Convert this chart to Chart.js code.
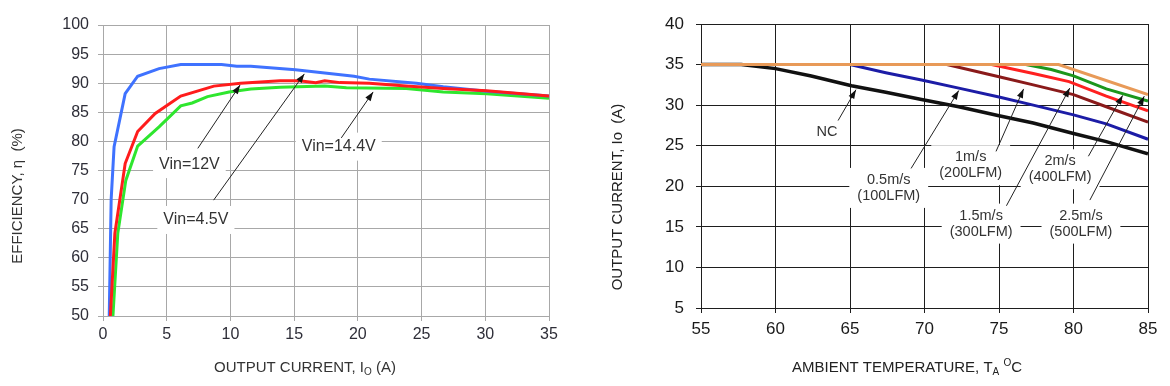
<!DOCTYPE html>
<html>
<head>
<meta charset="utf-8">
<script src="https://cdn.jsdelivr.net/npm/chart.js@4.4.1/dist/chart.umd.min.js"></script>
<style>
  body { margin: 0; background: #fff; width: 1170px; height: 386px; position: relative; overflow: hidden; }
  canvas { position: absolute; top: 0; }
  #effChart { left: 0; }
  #derateChart { left: 585px; }
</style>
</head>
<body>
<canvas id="effChart" width="585" height="386"></canvas>
<canvas id="derateChart" width="585" height="386"></canvas>
<script>
// efficiency vs output current (A, %)
const vin45Current = [0.49, 0.64, 0.87, 1.74, 2.72, 4.4, 6.1, 9.3, 10.5, 11.6, 15.1, 19.7, 20.9, 24.6, 26.7, 30.1, 35];
const vin45Eff     = [50, 70, 79.1, 88.2, 91.2, 92.5, 93.2, 93.2, 92.9, 92.9, 92.3, 91.2, 90.7, 90.0, 89.4, 88.6, 87.8];
const vin12Current = [0.58, 0.93, 1.74, 2.72, 4.1, 6.1, 8.7, 10.8, 13.9, 15.4, 16.7, 17.4, 18.6, 20.9, 23.8, 26.7, 30.1, 35];
const vin12Eff     = [50, 64.2, 76.2, 81.7, 84.8, 87.8, 89.5, 90.0, 90.4, 90.4, 90.1, 90.4, 90.1, 90.0, 89.5, 89.1, 88.7, 87.8];
const vin144Current = [0.78, 1.16, 1.79, 2.72, 4.4, 6.1, 7.0, 8.2, 9.9, 11.6, 13.9, 17.4, 19.1, 23.8, 26.7, 30.1, 35];
const vin144Eff     = [50, 64.2, 73.3, 79.2, 82.5, 86.1, 86.6, 87.7, 88.5, 89.0, 89.3, 89.5, 89.2, 89.1, 88.5, 88.2, 87.4];

// derating: output current vs ambient temperature (°C, A)
const ncTemp = [55, 57.7, 60, 62.4, 65.1, 67.4, 69.8, 72.3, 75, 77.3, 80, 82.2, 85];
const ncAmps = [35, 35, 34.5, 33.6, 32.4, 31.6, 30.7, 29.8, 28.7, 27.8, 26.5, 25.5, 24.0];
const air05Temp = [55, 65, 67.4, 69.8, 72.3, 75, 77.3, 80, 82.2, 85];
const air05Amps = [35, 35, 34.0, 33.1, 32.1, 31.0, 30.0, 28.8, 27.7, 25.8];
const air10Temp = [55, 71.5, 75, 77.3, 80, 82.2, 85];
const air10Amps = [35, 35, 33.5, 32.5, 31.3, 29.8, 27.9];
const air15Temp = [55, 74.5, 77.3, 79.7, 82.2, 85];
const air15Amps = [35, 35, 33.9, 32.9, 31.1, 29.3];
const air20Temp = [55, 76.8, 78.5, 80, 82.2, 85];
const air20Amps = [35, 35, 34.4, 33.6, 32.0, 30.5];
const air25Temp = [55, 79, 85];
const air25Amps = [35, 35, 31.3];

// labels with arrows (text centre, arrow tail, arrow tip in data units)
const effNotes = [
  { lines: ['Vin=12V'],   at: [6.78, 76.1], from: [7.44, 78.8], to: [10.76, 89.7] },
  { lines: ['Vin=4.5V'],  at: [7.29, 66.5], from: [8.68, 69.9], to: [15.8, 91.6] },
  { lines: ['Vin=14.4V'], at: [18.5, 79.1], from: [18.7, 80.6], to: [21.2, 88.5] }
];
const derateNotes = [
  { lines: ['NC'],                 at: [63.45, 26.75], from: [64.2, 28.1], to: [65.4, 31.9] },
  { lines: ['0.5m/s', '(100LFM)'], at: [67.6, 19.8],   from: [69.1, 22.2], to: [72.3, 31.8] },
  { lines: ['1m/s', '(200LFM)'],   at: [73.1, 22.6],   from: [74.8, 24.3], to: [76.65, 32.0] },
  { lines: ['1.5m/s', '(300LFM)'], at: [73.8, 15.4],   from: [75.5, 17.6], to: [79.75, 32.1] },
  { lines: ['2m/s', '(400LFM)'],   at: [79.1, 22.1],   from: [81.0, 23.7], to: [83.3, 31.2] },
  { lines: ['2.5m/s', '(500LFM)'], at: [80.5, 15.4],   from: [81.1, 18.3], to: [84.75, 31.1] }
];

const FONT = "'Liberation Sans', Arial, sans-serif";
Chart.defaults.font.family = FONT;

const pts = (xs, ys) => xs.map((x, i) => ({ x: x, y: ys[i] }));

function arrow(ctx, x1, y1, x2, y2) {
  ctx.beginPath();
  ctx.moveTo(x1, y1);
  ctx.lineTo(x2, y2);
  ctx.stroke();
  const a = Math.atan2(y2 - y1, x2 - x1), L = 9, W = 3.2;
  ctx.beginPath();
  ctx.moveTo(x2, y2);
  ctx.lineTo(x2 - L * Math.cos(a) + W * Math.sin(a), y2 - L * Math.sin(a) - W * Math.cos(a));
  ctx.lineTo(x2 - L * Math.cos(a) - W * Math.sin(a), y2 - L * Math.sin(a) + W * Math.cos(a));
  ctx.closePath();
  ctx.fill();
}

// text with sub/superscripts: parts = [text, size, dy]
function richText(ctx, parts, cx, cy, color, rot) {
  ctx.save();
  ctx.translate(cx, cy);
  ctx.rotate(rot || 0);
  ctx.fillStyle = color;
  ctx.textBaseline = 'middle';
  ctx.textAlign = 'left';
  let total = 0;
  parts.forEach(p => { ctx.font = p[1] + 'px ' + FONT; total += ctx.measureText(p[0]).width; });
  let x = -total / 2;
  parts.forEach(p => {
    ctx.font = p[1] + 'px ' + FONT;
    ctx.fillText(p[0], x, p[2]);
    x += ctx.measureText(p[0]).width;
  });
  ctx.restore();
}

const notesPlugin = {
  id: 'notes',
  beforeDatasetsDraw(chart, args, o) {
    const ctx = chart.ctx, xs = chart.scales.x, ys = chart.scales.y;
    ctx.save();
    ctx.font = o.size + 'px ' + FONT;
    o.items.forEach(n => {
      const cx = xs.getPixelForValue(n.at[0]), cy = ys.getPixelForValue(n.at[1]);
      const w = Math.max(...n.lines.map(t => ctx.measureText(t).width)) + o.padX * 2;
      const h = n.lines.length * o.lineH + o.padY * 2;
      ctx.fillStyle = '#fff';
      ctx.fillRect(cx - w / 2, cy - h / 2, w, h);
    });
    ctx.restore();
  },
  afterDatasetsDraw(chart, args, o) {
    const ctx = chart.ctx, xs = chart.scales.x, ys = chart.scales.y;
    ctx.save();
    ctx.font = o.size + 'px ' + FONT;
    ctx.fillStyle = o.color;
    ctx.textAlign = 'center';
    ctx.textBaseline = 'middle';
    o.items.forEach(n => {
      const cx = xs.getPixelForValue(n.at[0]), cy = ys.getPixelForValue(n.at[1]);
      n.lines.forEach((t, i) => {
        ctx.fillText(t, cx, cy + (i - (n.lines.length - 1) / 2) * o.lineH);
      });
    });
    ctx.strokeStyle = '#222';
    ctx.fillStyle = '#111';
    ctx.lineWidth = 1;
    o.items.forEach(n => {
      arrow(ctx, xs.getPixelForValue(n.from[0]), ys.getPixelForValue(n.from[1]),
                 xs.getPixelForValue(n.to[0]), ys.getPixelForValue(n.to[1]));
    });
    ctx.restore();
  },
  afterDraw(chart, args, o) {
    richText(chart.ctx, o.xTitle, o.xTitleAt[0], o.xTitleAt[1], o.titleColor, 0);
    richText(chart.ctx, o.yTitle, o.yTitleAt[0], o.yTitleAt[1], o.titleColor, -Math.PI / 2);
  }
};

// left: efficiency
const effGrid = '#a8a8a8';
new Chart(document.getElementById('effChart'), {
  type: 'line',
  data: {
    datasets: [
      { label: 'Vin=12V', data: pts(vin12Current, vin12Eff), borderColor: '#ff1c1c' },
      { label: 'Vin=4.5V', data: pts(vin45Current, vin45Eff), borderColor: '#3f72ff' },
      { label: 'Vin=14.4V', data: pts(vin144Current, vin144Eff), borderColor: '#2ee62e' }
    ]
  },
  options: {
    responsive: false,
    animation: false,
    elements: { line: { borderWidth: 3, tension: 0 }, point: { radius: 0 } },
    layout: { padding: { top: 25, right: 36, left: 0, bottom: 0 } },
    plugins: {
      legend: { display: false },
      tooltip: { enabled: false },
      notes: {
        items: effNotes, size: 16, lineH: 18, padX: 6, padY: 5, color: '#333',
        xTitle: [['OUTPUT CURRENT, I', 15, 0], ['O', 10, 4], [' (A)', 15, 0]],
        xTitleAt: [305, 368],
        yTitle: [['EFFICIENCY, η  (%)', 15, 0]],
        yTitleAt: [18, 196],
        titleColor: '#333'
      }
    },
    scales: {
      x: {
        type: 'linear', min: 0, max: 35,
        ticks: { stepSize: 5, color: '#2e2e38', font: { size: 16 }, padding: 4 },
        grid: { color: effGrid, tickLength: 5, tickColor: effGrid },
        border: { color: effGrid },
        afterFit: s => { s.height = 70; }
      },
      y: {
        type: 'linear', min: 50, max: 100,
        ticks: { stepSize: 5, color: '#2e2e38', font: { size: 16 }, padding: 9 },
        grid: { color: effGrid, tickLength: 5, tickColor: effGrid },
        border: { color: effGrid },
        afterFit: s => { s.width = 103; }
      }
    }
  },
  plugins: [notesPlugin]
});

// right: derating
const drGrid = '#1e1e1e';
new Chart(document.getElementById('derateChart'), {
  type: 'line',
  data: {
    datasets: [
      { label: '2.5m/s', data: pts(air25Temp, air25Amps), borderColor: '#e89a58' },
      { label: '2m/s', data: pts(air20Temp, air20Amps), borderColor: '#1c961c' },
      { label: '1.5m/s', data: pts(air15Temp, air15Amps), borderColor: '#ff2020' },
      { label: '1m/s', data: pts(air10Temp, air10Amps), borderColor: '#8a1a1a' },
      { label: '0.5m/s', data: pts(air05Temp, air05Amps), borderColor: '#1c1ca6' },
      { label: 'NC', data: pts(ncTemp, ncAmps), borderColor: '#111', borderWidth: 3.5 }
    ]
  },
  options: {
    responsive: false,
    animation: false,
    elements: { line: { borderWidth: 3, tension: 0 }, point: { radius: 0 } },
    layout: { padding: { top: 24, right: 22, left: 0, bottom: 0 } },
    plugins: {
      legend: { display: false },
      tooltip: { enabled: false },
      notes: {
        items: derateNotes, size: 14.5, lineH: 16, padX: 8, padY: 4, color: '#333',
        xTitle: [['AMBIENT TEMPERATURE, T', 15, 0], ['A', 10, 4], [' ', 15, 0], ['O', 10, -5], ['C', 15, 0]],
        xTitleAt: [322, 368],
        yTitle: [['OUTPUT CURRENT, Io  (A)', 15, 0]],
        yTitleAt: [33, 197],
        titleColor: '#222'
      }
    },
    scales: {
      x: {
        type: 'linear', min: 55, max: 85,
        ticks: { stepSize: 5, color: '#1a1a1a', font: { size: 17 }, padding: 6 },
        grid: { color: drGrid, tickLength: 5, tickColor: drGrid },
        border: { color: drGrid },
        afterFit: s => { s.height = 78; }
      },
      y: {
        type: 'linear', min: 5, max: 40,
        ticks: { stepSize: 5, color: '#1a1a1a', font: { size: 17 }, padding: 12 },
        grid: { color: drGrid, tickLength: 5, tickColor: drGrid },
        border: { color: drGrid },
        afterFit: s => { s.width = 116; }
      }
    }
  },
  plugins: [notesPlugin]
});
</script>
</body>
</html>
